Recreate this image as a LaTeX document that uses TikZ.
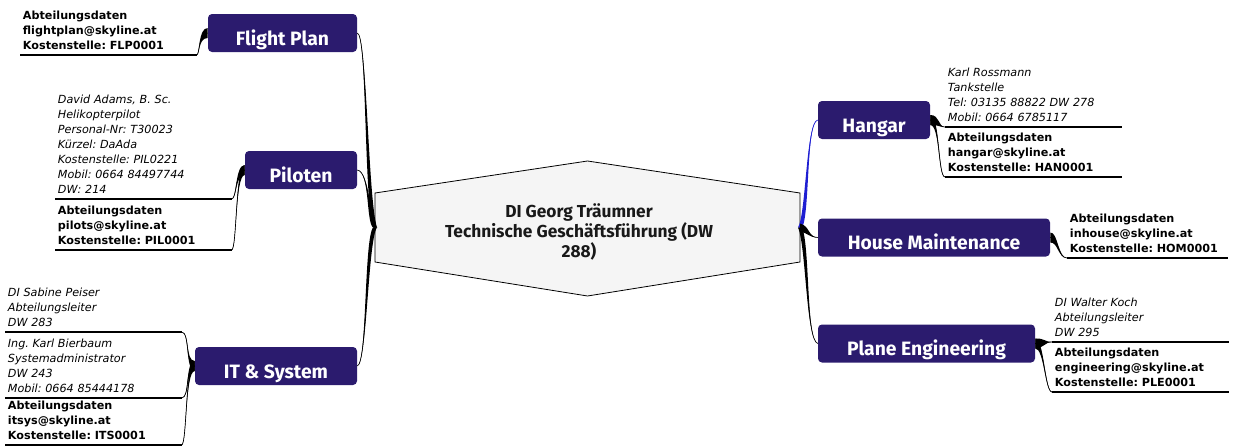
\documentclass[tikz,border=0pt]{standalone}
\usepackage{fontspec}
\setmainfont{DejaVu Sans}
\newfontfamily\headfont{Fira Sans}
\usetikzlibrary{calc}
\frenchspacing

\definecolor{branchblue}{RGB}{43,27,110}
\definecolor{hubgray}{RGB}{245,245,245}
\definecolor{linkblue}{RGB}{30,30,210}

% tapered link: [colour] thick end, two controls, thin end, half width
\newcommand\taper[6][black]{%
  \fill[#1] ($#2+#6$) .. controls ($#3+#6$) and #4 .. #5
    .. controls #4 and ($#3-#6$) .. ($#2-#6$) -- cycle;
  \draw[#1, line width=0.5pt] #2 .. controls #3 and #4 .. #5;
}

\begin{document}
\begin{tikzpicture}[x=0.75pt, y=-0.75pt,
    branch/.style={fill=branchblue, rounded corners=3pt, text=white,
      font=\headfont\bfseries\fontsize{14.5}{16}\selectfont,
      minimum height=28.5pt, inner sep=0pt, text height=20.5pt, text depth=2.3pt},
    deptdetail/.style={anchor=south west, inner xsep=2pt, inner ysep=4pt,
      text width=128pt, align=left, font=\fontsize{8.4}{11.3}\selectfont\bfseries},
    persondetail/.style={deptdetail, font=\fontsize{8.4}{11.3}\selectfont\itshape},
    underline/.style={line width=0.8pt}]
    \useasboundingbox (0,0) rectangle (1236,446);
    % Draw central hexagon
    \node[minimum width=318.75pt, minimum height=51.75pt, inner sep=0pt, outer sep=0pt]
      (hub) at (587.5,227.5) {};
    \filldraw[fill=hubgray, line width=0.6pt] (hub.north west) -- ++(212.5,-32) -- (hub.north east)
      -- (hub.south east) -- ++(-212.5,34) -- (hub.south west) -- cycle;
    \node[align=center, font=\headfont\bfseries\fontsize{13}{13.5}\selectfont, text=black!90]
      (hubtext) at (579,232) {DI Georg Träumner\\Technische Geschäftsführung (DW\\288)};
    % Draw branches
    \node[branch, minimum width=111.75pt] (flight) at (282.5,33) {Flight Plan};
    \node[branch, minimum width=84pt] (pilot) at (301,170) {Piloten};
    \node[branch, minimum width=121.5pt] (itsys) at (276,366) {IT \& System};
    \node[branch, minimum width=84pt] (hangar) at (874,120) {Hangar};
    \node[branch, minimum width=174pt] (house) at (934,237.5) {House Maintenance};
    \node[branch, minimum width=162.75pt] (plane) at (926.5,343.5) {Plane Engineering};
    % Draw links from the hub
    \taper{(hub.west)}{(366,200)}{(367,34)}{(flight.east)}{(2,0)}
    \taper{(hub.west)}{(368,222)}{(370,172)}{(pilot.east)}{(2,0)}
    \taper{(hub.west)}{(366,240)}{(367,364)}{(itsys.east)}{(2,0)}
    \taper[linkblue]{(hub.east)}{(808,215)}{(806,122)}{(hangar.west)}{(-2,0)}
    \taper{(hub.east)}{(810,230)}{(808,237)}{(house.west)}{(0,4)}
    \taper{(hub.east)}{(808,245)}{(806,340)}{(plane.west)}{(-2,0)}
    % Draw Flight Plan details
    \node[deptdetail] (flightd) at (20,55) {Abteilungsdaten\\flightplan@skyline.at\\Kostenstelle: FLP0001};
    \draw[underline] (flightd.south west) -- (flightd.south east);
    \taper{(flight.west)}{(198,33)}{(200,55)}{(flightd.south east)}{(0,5)}
    % Draw Piloten details
    \node[persondetail] (pilotd1) at (55,199) {David Adams, B. Sc.\\Helikopterpilot\\Personal-Nr: T30023\\Kürzel: DaAda\\Kostenstelle: PIL0221\\Mobil: 0664 84497744\\DW: 214};
    \node[deptdetail] (pilotd2) at (55,250) {Abteilungsdaten\\pilots@skyline.at\\Kostenstelle: PIL0001};
    \draw[underline] (pilotd1.south west) -- (pilotd1.south east);
    \draw[underline] (pilotd2.south west) -- (pilotd2.south east);
    \taper{(pilot.west)}{(235,170)}{(237,199)}{(pilotd1.south east)}{(0,5)}
    \taper{(pilot.west)}{(235,170)}{(237,250)}{(pilotd2.south east)}{(0,5)}
    % Draw IT & System details
    \node[persondetail] (itd1) at (5,332) {DI Sabine Peiser\\Abteilungsleiter\\DW 283};
    \node[persondetail] (itd2) at (5,398) {Ing. Karl Bierbaum\\Systemadministrator\\DW 243\\Mobil: 0664 85444178};
    \node[deptdetail] (itd3) at (5,445) {Abteilungsdaten\\itsys@skyline.at\\Kostenstelle: ITS0001};
    \draw[underline] (itd1.south west) -- (itd1.south east);
    \draw[underline] (itd2.south west) -- (itd2.south east);
    \draw[underline] (itd3.south west) -- (itd3.south east);
    \taper{(itsys.west)}{(185,366)}{(190,332)}{(itd1.south east)}{(0,5)}
    \taper{(itsys.west)}{(185,366)}{(190,398)}{(itd2.south east)}{(0,5)}
    \taper{(itsys.west)}{(185,366)}{(187,445)}{(itd3.south east)}{(0,5)}
    % Draw Hangar details
    \node[persondetail] (hangard1) at (945,127) {Karl Rossmann\\Tankstelle\\Tel: 03135 88822 DW 278\\Mobil: 0664 6785117};
    \node[deptdetail] (hangard2) at (945,177) {Abteilungsdaten\\hangar@skyline.at\\Kostenstelle: HAN0001};
    \draw[underline] (hangard1.south west) -- (hangard1.south east);
    \draw[underline] (hangard2.south west) -- (hangard2.south east);
    \taper{(hangar.east)}{(940,120)}{(938,127)}{(hangard1.south west)}{(0,5)}
    \taper{(hangar.east)}{(940,120)}{(938,177)}{(hangard2.south west)}{(0,5)}
    % Draw House Maintenance details
    \node[deptdetail, text width=116pt] (housed) at (1067,258) {Abteilungsdaten\\inhouse@skyline.at\\Kostenstelle: HOM0001};
    \draw[underline] (housed.south west) -- (housed.south east);
    \taper{(house.east)}{(1058,237)}{(1058,258)}{(housed.south west)}{(0,5)}
    % Draw Plane Engineering details
    \node[persondetail] (planed1) at (1052,342) {DI Walter Koch\\Abteilungsleiter\\DW 295};
    \node[deptdetail] (planed2) at (1052,392) {Abteilungsdaten\\engineering@skyline.at\\Kostenstelle: PLE0001};
    \draw[underline] (planed1.south west) -- (planed1.south east);
    \draw[underline] (planed2.south west) -- (planed2.south east);
    \taper{(plane.east)}{(1044,343)}{(1045,342)}{(planed1.south west)}{(0,5)}
    \taper{(plane.east)}{(1044,343)}{(1045,392)}{(planed2.south west)}{(0,5)}
\end{tikzpicture}
\end{document}
